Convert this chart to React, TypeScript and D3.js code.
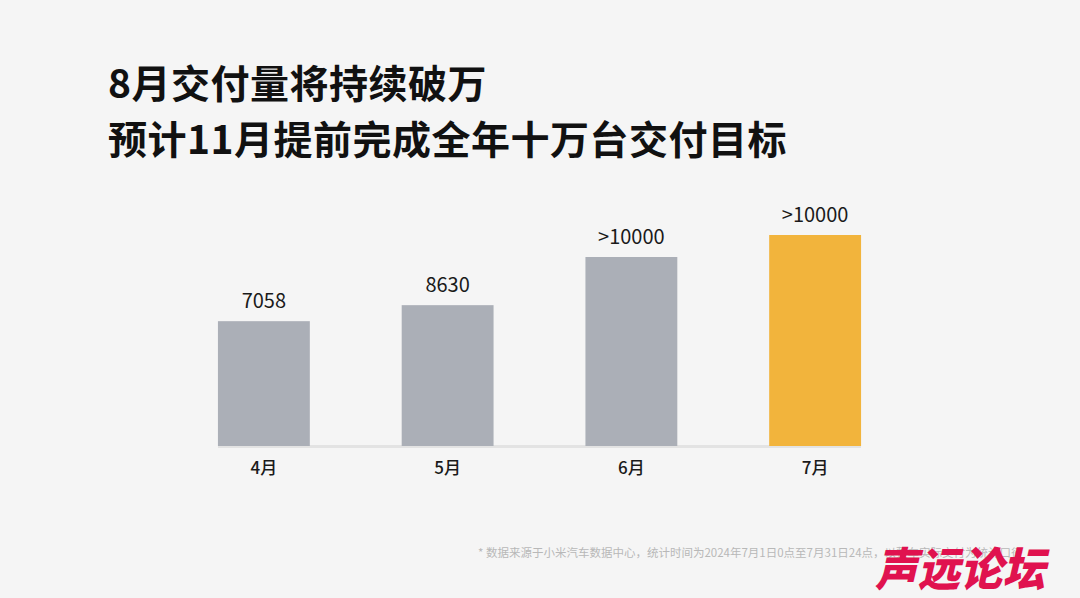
import React from "react";
import * as d3 from "d3";

const months = ["4月", "5月", "6月", "7月"];
const deliveries = [7058, 8630, 13360, 15520];
const valueLabels = ["7058", "8630", ">10000", ">10000"];
const highlight = [false, false, false, true];
const titleLines = ["8月交付量将持续破万", "预计11月提前完成全年十万台交付目标"];
const footnote = "* 数据来源于小米汽车数据中心，统计时间为2024年7月1日0点至7月31日24点，以整车实际交付为统计口径";
const watermark = "声远论坛";

const W = 1080;
const H = 598;
const FONT = "'Noto Sans CJK SC', 'Noto Sans', sans-serif";

export default function App() {
  const x = d3.scaleBand<string>().domain(months).range([172, 907]).paddingInner(0.5).paddingOuter(0.25);
  const y = d3.scaleLinear().domain([-5200, 15520]).range([446, 235]);

  return (
    <svg width={W} height={H} style={{ position: "absolute", left: 0, top: 0, display: "block" }}>
      <rect x={0} y={0} width={W} height={H} fill="#f5f5f5" />
      {titleLines.map((t, i) => (
        <text key={i} x={108} y={98 + i * 56} fontFamily={FONT} fontSize={39} fontWeight={600} letterSpacing={0.5} fill="#111">
          {t}
        </text>
      ))}
      <line x1={218} x2={861} y1={446.5} y2={446.5} stroke="#e3e3e3" strokeWidth={3} />
      {months.map((m, i) => {
        const bx = x(m)!;
        const top = y(deliveries[i]);
        return (
          <g key={m}>
            <rect x={bx} y={top} width={x.bandwidth()} height={y(-5200) - top} fill={highlight[i] ? "#f2b43c" : "#abafb7"} />
            <text x={bx + x.bandwidth() / 2} y={top - 13} textAnchor="middle" fontFamily={FONT} fontSize={20} fill="#1a1a1a">
              {valueLabels[i]}
            </text>
            <text x={bx + x.bandwidth() / 2} y={474} textAnchor="middle" fontFamily={FONT} fontSize={17} fontWeight={500} fill="#1a1a1a">
              {m}
            </text>
          </g>
        );
      })}
      <text x={478} y={557} fontFamily={FONT} fontSize={11.5} fill="#b8b8b8">
        {footnote}
      </text>
      <text x={875} y={586} textLength={170} lengthAdjust="spacingAndGlyphs" fontFamily={FONT} fontSize={46} fontWeight={900} fontStyle="italic" fill="#e0124f">
        {watermark}
      </text>
    </svg>
  );
}
